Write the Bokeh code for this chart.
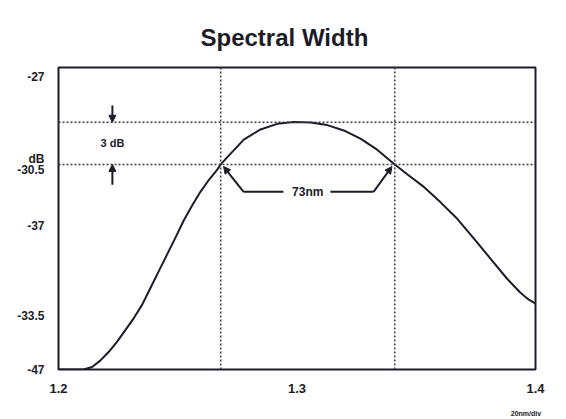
from bokeh.plotting import figure
from bokeh.models import Span, Arrow, NormalHead, Label, FixedTicker, LinearAxis, Range1d
from bokeh.embed import file_html
from bokeh.resources import INLINE

# Optical spectrum of the source (wavelength in um, level in dB)
wavelength_um = [1.2000, 1.2105, 1.2141, 1.2176, 1.2211, 1.2246, 1.2281, 1.2316,
                 1.2351, 1.2386, 1.2421, 1.2456, 1.2491, 1.2525, 1.2561, 1.2595,
                 1.2630, 1.2665, 1.2680, 1.2707, 1.2777, 1.2847, 1.2917, 1.2987,
                 1.3057, 1.3127, 1.3196, 1.3266, 1.3336, 1.3410, 1.3462, 1.3532,
                 1.3602, 1.3672, 1.3741, 1.3811, 1.3881, 1.3937, 1.3972, 1.4000]
level_db = [-48.50, -48.50, -48.32, -47.85, -47.24, -46.52, -45.68, -44.84,
            -43.88, -42.68, -41.48, -40.29, -39.09, -37.89, -36.81, -35.85,
            -35.01, -34.29, -33.90, -33.40, -32.13, -31.41, -31.01, -30.88,
            -30.91, -31.10, -31.48, -32.06, -32.85, -33.90, -34.60, -35.50,
            -36.60, -37.77, -39.16, -40.60, -42.04, -43.04, -43.53, -43.81]

# Peak level and the -3 dB points
peak_db = -30.9
half_db = peak_db - 3.0
fwhm_left_um = 1.268
fwhm_nm = 73
fwhm_right_um = fwhm_left_um + fwhm_nm / 1000.0

# Axis ticks and their printed labels
x_ticks = [1.2, 1.3, 1.4]
x_tick_labels = ["1.2", "1.3", "1.4"]
y_ticks = [-27.7, -33.5, -34.3, -38.3, -44.7, -48.5]
y_tick_labels = ["-27", "dB", "-30.5", "-37", "-33.5", "-47"]
scale_note = "20nm/div"

FONT = "Liberation Sans"
INK = "#1c1c28"

p = figure(width=566, height=419, output_backend="svg", toolbar_location=None,
           x_range=Range1d(1.2, 1.4), y_range=Range1d(-48.5, -27),
           min_border_left=58, min_border_right=31, min_border_top=67,
           min_border_bottom=40, x_axis_location=None, y_axis_location=None)
p.background_fill_color = "white"
p.border_fill_color = "white"
p.outline_line_color = INK
p.outline_line_width = 2
p.xgrid.visible = False
p.ygrid.visible = False

p.title.text = "Spectral Width"
p.title.align = "left"
p.title.offset = 142
p.title.text_font = FONT
p.title.text_font_size = "24px"
p.title.text_font_style = "bold"
p.title.text_color = INK
p.title.standoff = 33

# Bottom axis
xa = LinearAxis(ticker=FixedTicker(ticks=x_ticks),
                major_label_overrides={t: s for t, s in zip(x_ticks, x_tick_labels)})
xa.axis_line_color = None
xa.major_tick_line_color = None
xa.minor_tick_line_color = None
xa.major_label_standoff = 8
xa.major_label_text_font = FONT
xa.major_label_text_font_size = "13px"
xa.major_label_text_font_style = "bold"
xa.major_label_text_color = INK
p.add_layout(xa, "below")

# Scale note under the right end of the axis
xn = LinearAxis(ticker=FixedTicker(ticks=[1.396]),
                major_label_overrides={1.396: scale_note})
xn.axis_line_color = None
xn.major_tick_line_color = None
xn.minor_tick_line_color = None
xn.major_label_standoff = 8
xn.major_label_text_font = FONT
xn.major_label_text_font_size = "7px"
xn.major_label_text_font_style = "bold"
xn.major_label_text_color = INK
p.add_layout(xn, "below")

# Left axis
ya = LinearAxis(ticker=FixedTicker(ticks=y_ticks),
                major_label_overrides={t: s for t, s in zip(y_ticks, y_tick_labels)})
ya.axis_line_color = None
ya.major_tick_line_color = None
ya.minor_tick_line_color = None
ya.major_label_standoff = 8
ya.major_label_text_font = FONT
ya.major_label_text_font_size = "12px"
ya.major_label_text_font_style = "bold"
ya.major_label_text_color = INK
p.add_layout(ya, "left")

# Dotted reference lines: peak, -3 dB level and the two -3 dB wavelengths
for lvl in (peak_db, half_db):
    p.add_layout(Span(location=lvl, dimension="width", line_color="#3a3a4a",
                      line_dash="2 2", line_width=1.5))
for wl in (fwhm_left_um, fwhm_right_um):
    p.add_layout(Span(location=wl, dimension="height", line_color="#3a3a4a",
                      line_dash="2 2", line_width=1.5))

# Spectrum
p.line(wavelength_um, level_db, line_color=INK, line_width=2, line_join="round")

# 3 dB marker
x3 = 1.2226
p.add_layout(Arrow(x_start=x3, y_start=peak_db + 1.2, x_end=x3, y_end=peak_db,
                   line_color=INK, line_width=2,
                   end=NormalHead(size=7, fill_color=INK, line_color=INK)))
p.add_layout(Arrow(x_start=x3, y_start=half_db - 1.45, x_end=x3, y_end=half_db,
                   line_color=INK, line_width=2,
                   end=NormalHead(size=7, fill_color=INK, line_color=INK)))
p.add_layout(Label(x=x3, y=(peak_db + half_db) / 2, text="3 dB",
                   text_align="center", text_baseline="middle",
                   text_font=FONT, text_font_size="11px", text_font_style="bold",
                   text_color=INK))

# 73 nm width bracket
yb = half_db - 1.95
xl0, xl1 = fwhm_left_um + 0.0096, fwhm_left_um + 0.0263
xr0, xr1 = fwhm_right_um - 0.0270, fwhm_right_um - 0.0089
p.line([xl0, xl1], [yb, yb], line_color=INK, line_width=2)
p.line([xr0, xr1], [yb, yb], line_color=INK, line_width=2)
p.add_layout(Arrow(x_start=xl0, y_start=yb, x_end=fwhm_left_um + 0.0012, y_end=half_db - 0.15,
                   line_color=INK, line_width=2,
                   end=NormalHead(size=7, fill_color=INK, line_color=INK)))
p.add_layout(Arrow(x_start=xr1, y_start=yb, x_end=fwhm_right_um - 0.0012, y_end=half_db - 0.15,
                   line_color=INK, line_width=2,
                   end=NormalHead(size=7, fill_color=INK, line_color=INK)))
p.add_layout(Label(x=(fwhm_left_um + fwhm_right_um) / 2, y=yb, text=f"{fwhm_nm}nm",
                   text_align="center", text_baseline="middle",
                   text_font=FONT, text_font_size="12px", text_font_style="bold",
                   text_color=INK))

open("out.html", "w").write(file_html(p, INLINE))
